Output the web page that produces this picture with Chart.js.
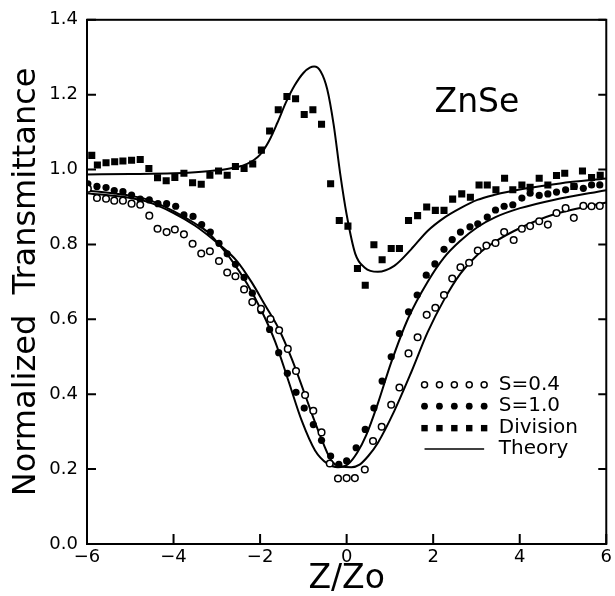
<!DOCTYPE html>
<html>
<head>
<meta charset="utf-8">
<script src="https://cdn.jsdelivr.net/npm/chart.js@4.4.1/dist/chart.umd.min.js"></script>
<style>
  html, body { margin: 0; padding: 0; background: #fff; }
</style>
</head>
<body>
<canvas id="zscan" width="615" height="596"></canvas>
<script>
const divX = [-5.89,-5.76,-5.56,-5.36,-5.17,-4.97,-4.77,-4.57,-4.37,-4.17,-3.97,-3.76,-3.56,-3.36,-3.16,-2.96,-2.76,-2.57,-2.37,-2.17,-1.97,-1.78,-1.58,-1.38,-1.18,-0.98,-0.78,-0.58,-0.37,-0.17,0.03,0.25,0.43,0.63,0.82,1.03,1.22,1.43,1.64,1.85,2.05,2.25,2.45,2.66,2.86,3.06,3.25,3.45,3.65,3.84,4.05,4.24,4.45,4.65,4.85,5.04,5.25,5.45,5.66,5.86];
const divY = [1.038,1.012,1.018,1.021,1.023,1.025,1.027,1.003,0.978,0.970,0.979,0.990,0.965,0.961,0.985,0.996,0.985,1.008,1.003,1.015,1.052,1.103,1.160,1.195,1.189,1.147,1.160,1.121,0.962,0.864,0.849,0.736,0.691,0.799,0.759,0.789,0.789,0.864,0.877,0.900,0.891,0.891,0.921,0.935,0.926,0.959,0.959,0.946,0.977,0.946,0.959,0.953,0.977,0.959,0.984,0.990,0.955,0.996,0.979,0.985];

const s10X = [-5.98,-5.77,-5.56,-5.37,-5.17,-4.97,-4.77,-4.56,-4.36,-4.16,-3.95,-3.76,-3.55,-3.35,-3.15,-2.95,-2.76,-2.57,-2.37,-2.18,-1.98,-1.78,-1.57,-1.37,-1.17,-0.98,-0.77,-0.58,-0.37,-0.18,0.0,0.22,0.43,0.63,0.82,1.03,1.22,1.43,1.63,1.84,2.04,2.25,2.44,2.63,2.85,3.03,3.25,3.44,3.64,3.84,4.05,4.24,4.45,4.65,4.85,5.06,5.26,5.47,5.66,5.85];
const s10Y = [0.962,0.955,0.952,0.944,0.941,0.932,0.921,0.919,0.909,0.909,0.902,0.879,0.875,0.853,0.833,0.803,0.775,0.747,0.712,0.670,0.623,0.573,0.511,0.456,0.405,0.363,0.319,0.277,0.235,0.213,0.222,0.257,0.306,0.363,0.435,0.500,0.562,0.620,0.665,0.718,0.748,0.787,0.813,0.833,0.847,0.855,0.873,0.892,0.902,0.906,0.924,0.937,0.931,0.935,0.940,0.946,0.955,0.950,0.959,0.959];

const s04X = [-5.98,-5.77,-5.56,-5.37,-5.17,-4.97,-4.77,-4.56,-4.37,-4.16,-3.97,-3.76,-3.56,-3.36,-3.16,-2.95,-2.76,-2.57,-2.37,-2.18,-1.98,-1.76,-1.56,-1.36,-1.17,-0.96,-0.77,-0.58,-0.39,-0.2,0.0,0.19,0.42,0.61,0.81,1.03,1.22,1.43,1.64,1.85,2.05,2.25,2.44,2.63,2.83,3.03,3.23,3.44,3.64,3.86,4.05,4.24,4.45,4.65,4.85,5.06,5.25,5.47,5.66,5.85];
const s04Y = [0.949,0.924,0.922,0.917,0.917,0.909,0.906,0.877,0.842,0.833,0.840,0.827,0.802,0.776,0.782,0.756,0.725,0.715,0.680,0.646,0.628,0.601,0.571,0.521,0.462,0.398,0.356,0.298,0.215,0.175,0.176,0.176,0.199,0.275,0.313,0.372,0.418,0.509,0.552,0.612,0.631,0.665,0.709,0.739,0.751,0.784,0.797,0.804,0.833,0.812,0.842,0.849,0.862,0.853,0.884,0.897,0.871,0.903,0.902,0.903];

// theory curves
const thDivX = [-6,-5,-4,-3.5,-3,-2.6,-2.3,-2.0,-1.8,-1.6,-1.4,-1.2,-1.0,-0.85,-0.75,-0.6,-0.45,-0.3,-0.15,0,0.2,0.42,0.72,1.1,1.49,1.87,2.25,2.63,3.02,3.4,4.16,4.93,6];
const thDivY = [0.987,0.988,0.99,0.993,0.998,1.005,1.015,1.04,1.075,1.125,1.18,1.225,1.258,1.272,1.275,1.262,1.215,1.12,0.99,0.88,0.775,0.738,0.727,0.743,0.787,0.836,0.871,0.897,0.919,0.932,0.95,0.963,0.976];

const th10X = [-6,-5,-4.58,-4,-3.5,-3.21,-2.98,-2.64,-2.3,-1.95,-1.65,-1.34,-1.04,-0.73,-0.45,-0.2,0.03,0.25,0.45,0.72,1.03,1.43,1.87,2.25,2.63,3.02,3.44,4.01,4.78,6];
const th10Y = [0.944,0.93,0.919,0.889,0.856,0.833,0.804,0.755,0.695,0.619,0.54,0.434,0.330,0.250,0.215,0.205,0.213,0.245,0.29,0.375,0.485,0.605,0.70,0.765,0.81,0.846,0.873,0.897,0.919,0.945];

const th04X = [-6,-5,-4.58,-4,-3.5,-3.0,-2.53,-2.2,-1.88,-1.57,-1.27,-0.96,-0.65,-0.35,-0.12,0.11,0.3,0.5,0.72,1.1,1.49,1.87,2.25,2.63,3.02,3.44,4.01,4.78,6];
const th04Y = [0.937,0.924,0.913,0.884,0.850,0.805,0.755,0.70,0.637,0.575,0.495,0.398,0.301,0.222,0.207,0.205,0.212,0.235,0.27,0.355,0.458,0.565,0.652,0.722,0.772,0.808,0.844,0.88,0.912];

const xTicks = [-6, -4, -2, 0, 2, 4, 6];
const yTicks = [0.0, 0.2, 0.4, 0.6, 0.8, 1.0, 1.2, 1.4];
const legendLabels = ['S=0.4', 'S=1.0', 'Division', 'Theory'];

const FONT = "'DejaVu Sans', 'Liberation Sans', sans-serif";
const pts = (xs, ys) => xs.map((x, i) => ({ x: x, y: ys[i] }));

const openPt = { pointStyle: 'circle', pointRadius: 3.3, pointBackgroundColor: '#fff', pointBorderColor: '#000', pointBorderWidth: 1.5 };
const fullPt = { pointStyle: 'circle', pointRadius: 3.6, pointBackgroundColor: '#000', pointBorderColor: '#000', pointBorderWidth: 0 };
const rectPt = { pointStyle: 'rect', pointRadius: 5, pointBackgroundColor: '#000', pointBorderColor: '#000', pointBorderWidth: 0 };
const theory = { showLine: true, pointRadius: 0, borderColor: '#000', borderWidth: 2, cubicInterpolationMode: 'monotone', order: 2 };

const frame = {
  id: 'frame',
  afterDraw(chart) {
    const { ctx, chartArea: a, scales: { x, y } } = chart;
    ctx.save();
    ctx.strokeStyle = '#000';
    ctx.lineWidth = 2;
    ctx.strokeRect(a.left, a.top, a.right - a.left, a.bottom - a.top);
    ctx.beginPath();
    yTicks.forEach(v => {
      const py = y.getPixelForValue(v);
      ctx.moveTo(a.left, py); ctx.lineTo(a.left + 9, py);
      ctx.moveTo(a.right, py); ctx.lineTo(a.right - 8, py);
    });
    xTicks.forEach(v => {
      const px = x.getPixelForValue(v);
      ctx.moveTo(px, a.bottom); ctx.lineTo(px, a.bottom - 10);
    });
    ctx.stroke();

    // sample label
    const w = a.right - a.left, h = a.bottom - a.top;
    ctx.fillStyle = '#000';
    ctx.font = '33px ' + FONT;
    ctx.textAlign = 'center';
    ctx.textBaseline = 'alphabetic';
    ctx.fillText('ZnSe', a.left + w * 0.751, a.top + h * 0.176);

    // legend
    const rows = [0.696, 0.737, 0.779, 0.819].map(f => a.top + h * f);
    const x0 = a.left + w * 0.65, step = w * 0.0287;
    for (let k = 0; k < 5; k++) {
      const px = x0 + k * step;
      ctx.beginPath(); ctx.arc(px, rows[0], 3, 0, Math.PI * 2);
      ctx.fillStyle = '#fff'; ctx.fill(); ctx.lineWidth = 1.5; ctx.stroke();
      ctx.beginPath(); ctx.arc(px, rows[1], 3.4, 0, Math.PI * 2);
      ctx.fillStyle = '#000'; ctx.fill();
      ctx.fillRect(px - 3.2, rows[2] - 3.2, 6.4, 6.4);
    }
    ctx.lineWidth = 1.5;
    ctx.beginPath();
    ctx.moveTo(x0, rows[3]); ctx.lineTo(x0 + 4 * step, rows[3]);
    ctx.stroke();
    ctx.font = '20px ' + FONT;
    ctx.textAlign = 'left';
    ctx.textBaseline = 'middle';
    legendLabels.forEach((t, i) => ctx.fillText(t, a.left + w * 0.793, rows[i]));
    ctx.restore();
  }
};

new Chart(document.getElementById('zscan'), {
  type: 'scatter',
  data: {
    datasets: [
      Object.assign({ label: 'S=0.4', data: pts(s04X, s04Y), order: 0 }, openPt),
      Object.assign({ label: 'S=1.0', data: pts(s10X, s10Y), order: 0 }, fullPt),
      Object.assign({ label: 'Division', data: pts(divX, divY), order: 0 }, rectPt),
      Object.assign({ label: 'Theory S=0.4', data: pts(th04X, th04Y) }, theory),
      Object.assign({ label: 'Theory S=1.0', data: pts(th10X, th10Y) }, theory),
      Object.assign({ label: 'Theory Division', data: pts(thDivX, thDivY) }, theory)
    ]
  },
  options: {
    responsive: false,
    animation: false,
    layout: { padding: { top: 15, right: 5, left: 0, bottom: 0 } },
    plugins: { legend: { display: false }, tooltip: { enabled: false } },
    scales: {
      x: {
        type: 'linear', min: -6, max: 6,
        afterFit: s => { s.height = 52; },
        afterBuildTicks: s => { s.ticks = xTicks.map(v => ({ value: v })); },
        grid: { display: false, drawTicks: false },
        border: { display: false },
        ticks: {
          padding: 3, color: '#000', font: { family: FONT, size: 18 },
          callback: v => (v < 0 ? '\u2212' + Math.abs(v) : String(v))
        },
        title: {
          display: true, text: 'Z/Zo', color: '#000',
          font: { family: FONT, size: 33, lineHeight: 1.0 },
          padding: { top: 0, bottom: 0 }
        }
      },
      y: {
        type: 'linear', min: 0, max: 1.4,
        afterFit: s => { s.width = 87; },
        afterBuildTicks: s => { s.ticks = yTicks.map(v => ({ value: v })); },
        grid: { display: false, drawTicks: false },
        border: { display: false },
        ticks: {
          padding: 9, color: '#000', font: { family: FONT, size: 18 },
          callback: v => v.toFixed(1)
        },
        title: {
          display: true, text: 'Normalized  Transmittance', color: '#000',
          font: { family: FONT, size: 32, lineHeight: 1.0 },
          padding: { top: 11, bottom: 0 }
        }
      }
    }
  },
  plugins: [frame]
});
</script>
</body>
</html>
